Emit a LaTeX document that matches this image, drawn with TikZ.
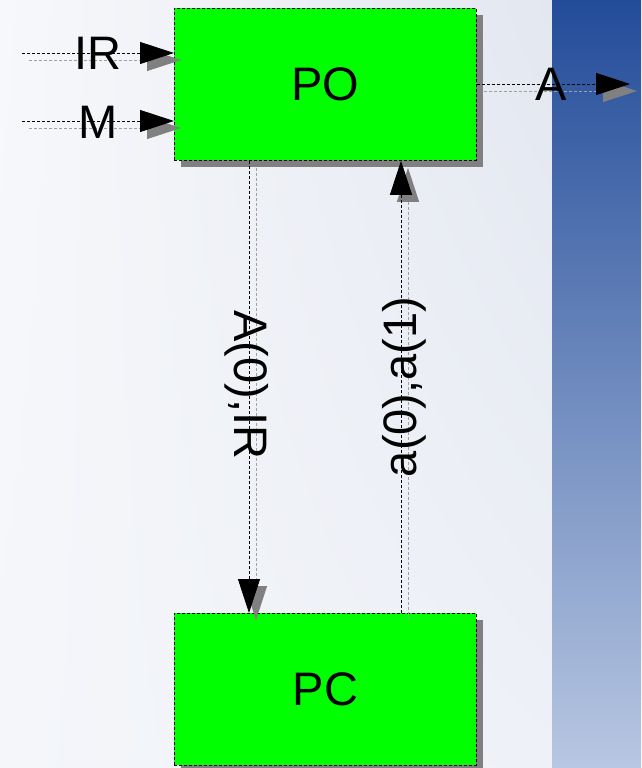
\documentclass[tikz,border=0pt]{standalone}
\usepackage{fontspec}
\setmainfont{Liberation Sans}
\usetikzlibrary{arrows.meta,shadows,shadings}
\definecolor{boxgreen}{RGB}{0,255,0}
\definecolor{shadowgray}{RGB}{128,128,128}
\definecolor{lineshadow}{RGB}{160,160,160}
\definecolor{bgUL}{RGB}{247,248,251}
\definecolor{bgUR}{RGB}{227,231,240}
\definecolor{bgLL}{RGB}{244,246,250}
\definecolor{bgLR}{RGB}{238,241,247}
\definecolor{blueTop}{RGB}{35,76,153}
\definecolor{blueBot}{RGB}{184,199,226}
\tikzset{
  bigtext/.style={font=\fontsize{47}{51}\selectfont, inner sep=0pt},
  blockbox/.style={draw=black, line width=0.8pt, dash pattern=on 3pt off 2pt,
    fill=boxgreen, minimum width=302pt, minimum height=152pt, inner sep=0pt,
    anchor=north west, bigtext,
    general shadow={fill=shadowgray, shadow xshift=7pt, shadow yshift=-7pt}},
  flowline/.style={draw=black, line width=0.9pt, dash pattern=on 3pt off 2pt,
    -{Triangle[length=34pt,width=22pt,fill=black]}},
  flowshadow/.style={draw=lineshadow, line width=0.9pt, dash pattern=on 3pt off 2pt,
    -{Triangle[length=34pt,width=22pt,fill=shadowgray,color=shadowgray]},
    transform canvas={xshift=7pt,yshift=-7pt}}
}
\begin{document}
\begin{tikzpicture}[x=1pt,y=-1pt]
\useasboundingbox (0,0) rectangle (641,768);
% background
\shade[upper left=bgUL, upper right=bgUR, lower left=bgLL, lower right=bgLR]
  (0,0) rectangle (552,768);
\shade[top color=blueTop, bottom color=blueBot] (552,0) rectangle (641,768);
% boxes
\node[blockbox] (PO) at (174,8) {PO};
\node[blockbox] (PC) at (174,613) {PC};
% free ends
\coordinate (irS) at (22,53);
\coordinate (mS) at (22,121);
\coordinate (aE) at (630,84);
\coordinate (dX) at (249,380);
\coordinate (uX) at (401,380);
% shadows of connectors
\draw[flowshadow] (irS) -- (irS -| PO.west);
\draw[flowshadow] (mS) -- (mS -| PO.west);
\draw[flowshadow] (aE -| PO.east) -- (aE);
\draw[flowshadow] (dX |- PO.south) -- (dX |- PC.north);
\draw[flowshadow] (uX |- PC.north) -- (uX |- PO.south);
% connectors
\draw[flowline] (irS) -- (irS -| PO.west);
\draw[flowline] (mS) -- (mS -| PO.west);
\draw[flowline] (aE -| PO.east) -- (aE);
\draw[flowline] (dX |- PO.south) -- (dX |- PC.north);
\draw[flowline] (uX |- PC.north) -- (uX |- PO.south);
% labels
\node[bigtext] (lIR) at (98,53) {IR};
\node[bigtext] (lM) at (98,122) {M};
\node[bigtext] (lA) at (551,84) {A};
\node[bigtext, rotate=-90] (lDown) at (246.5,385) {A(0),IR};
\node[bigtext, rotate=90] (lUp) at (404.5,387) {a(0),a(1)};
\end{tikzpicture}
\end{document}
